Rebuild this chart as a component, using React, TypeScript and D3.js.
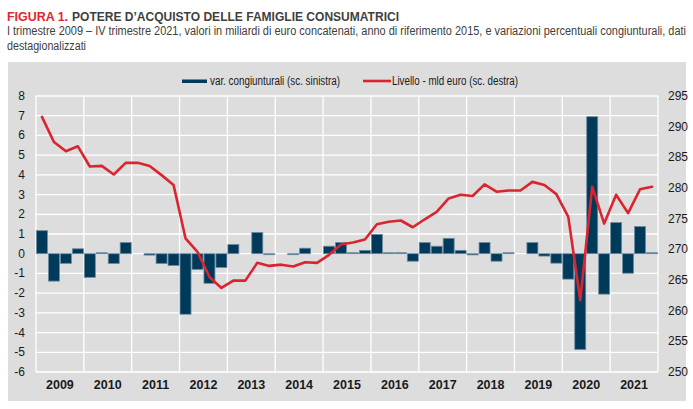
import React from 'react';
import * as d3 from 'd3';

const years = ['2009', '2010', '2011', '2012', '2013', '2014', '2015', '2016', '2017', '2018', '2019', '2020', '2021'];
const quarterNames = ['I', 'II', 'III', 'IV'];
const quarters = years.flatMap((y) => quarterNames.map((q) => `${q} ${y}`));

// variazioni percentuali congiunturali (scala sinistra)
const varCongiunturali = [
  1.17, -1.39, -0.49, 0.25,
  -1.2, 0.05, -0.5, 0.57,
  0, -0.07, -0.5, -0.6,
  -3.07, -0.8, -1.5, -0.7,
  0.47, 0, 1.08, -0.05,
  0, -0.05, 0.28, 0,
  0.38, 0.57, 0.05, 0.17,
  0.98, 0.05, 0.05, -0.38,
  0.57, 0.38, 0.78, 0.17,
  -0.06, 0.57, -0.38, 0.05,
  0, 0.57, -0.12, -0.48,
  -1.29, -4.86, 6.95, -2.05,
  1.58, -0.99, 1.38, 0.05,
];

// livello - mld euro (scala destra)
const livello = [
  291.6, 287.5, 286.0, 286.8,
  283.5, 283.6, 282.2, 284.1,
  284.1, 283.6, 282.1, 280.5,
  271.8, 269.6, 265.5, 263.7,
  264.9, 264.9, 267.8, 267.3,
  267.5, 267.2, 267.9, 267.8,
  269.1, 270.8, 271.1, 271.6,
  274.1, 274.5, 274.7, 273.6,
  274.9, 276.1, 278.3, 278.9,
  278.7, 280.6, 279.4, 279.6,
  279.6, 281.0, 280.5, 279.0,
  275.3, 261.7, 280.2, 274.2,
  278.9, 275.9, 279.8, 280.2,
];

const leftTicks = [8, 7, 6, 5, 4, 3, 2, 1, 0, -1, -2, -3, -4, -5, -6];
const rightTicks = [295, 290, 285, 280, 275, 270, 265, 260, 255, 250];

const titleRed = 'FIGURA 1.';
const titleRest = 'POTERE D\u2019ACQUISTO DELLE FAMIGLIE CONSUMATRICI';
const subtitle1 = 'I trimestre 2009 \u2013 IV trimestre 2021, valori in miliardi di euro concatenati, anno di riferimento 2015, e variazioni percentuali congiunturali, dati';
const subtitle2 = 'destagionalizzati';
const legendBar = 'var. congiunturali (sc. sinistra)';
const legendLine = 'Livello - mld euro (sc. destra)';

const W = 693;
const H = 409;
const plot = { left: 36, right: 658, top: 96, bottom: 372 };
const FONT = '"Liberation Sans Narrow", "Arial Narrow", "Liberation Sans", Arial, sans-serif';

export default function App() {
  const x = d3.scaleBand<string>().domain(quarters).range([plot.left, plot.right]).paddingInner(0.08).paddingOuter(0.04);
  const xYear = d3.scaleBand<string>().domain(years).range([plot.left, plot.right]);
  const yL = d3.scaleLinear().domain([-6, 8]).range([plot.bottom, plot.top]);
  const yR = d3.scaleLinear().domain([250, 295]).range([plot.bottom, plot.top]);

  const line = d3
    .line<number>()
    .x((_, i) => (x(quarters[i]) as number) + x.bandwidth() / 2)
    .y((d) => yR(d));

  const yearLines = [...years.map((y) => xYear(y) as number), plot.right];

  return (
    <svg width={W} height={H} style={{ position: 'absolute', left: 0, top: 0, background: '#ffffff' }} fontFamily={FONT}>
      {/* title */}
      <text x={7} y={21} fontSize={13.5} fontWeight="bold" fill="#e2262e" textLength={61} lengthAdjust="spacingAndGlyphs">
        {titleRed}
      </text>
      <text x={72} y={21} fontSize={13.5} fontWeight="bold" fill="#3f3f3f" textLength={327} lengthAdjust="spacingAndGlyphs">
        {titleRest}
      </text>
      <text x={7} y={35} fontSize={12} fill="#404040" textLength={679} lengthAdjust="spacingAndGlyphs">
        {subtitle1}
      </text>
      <text x={7} y={50} fontSize={12} fill="#404040" textLength={79} lengthAdjust="spacingAndGlyphs">
        {subtitle2}
      </text>

      {/* panel */}
      <rect x={8} y={62} width={678} height={339} fill="#dddddd" />

      {/* grid */}
      {leftTicks.map((t) => (
        <line key={`h${t}`} x1={plot.left} x2={plot.right} y1={yL(t)} y2={yL(t)} stroke="#ffffff" strokeWidth={1.3} />
      ))}
      {yearLines.map((xx, i) => (
        <line key={`v${i}`} x1={xx} x2={xx} y1={plot.top} y2={plot.bottom} stroke="#ffffff" strokeWidth={1.3} />
      ))}

      {/* bars */}
      {varCongiunturali.map((v, i) => {
        const y0 = yL(0);
        const y1 = yL(v);
        const h = Math.abs(y1 - y0);
        if (h === 0) return null;
        return (
          <rect
            key={`b${i}`}
            x={x(quarters[i]) as number}
            y={Math.min(y0, y1)}
            width={x.bandwidth()}
            height={h}
            fill="#003a5b"
            stroke="#6f8ca2"
            strokeWidth={0.8}
          />
        );
      })}

      {/* line */}
      <path d={line(livello) || ''} fill="none" stroke="#d9252f" strokeWidth={2.6} strokeLinejoin="round" strokeLinecap="round" />

      {/* left axis labels */}
      {leftTicks.map((t) => (
        <text key={`l${t}`} x={25} y={yL(t) + 4} fontSize={12} fill="#1a1a1a" textAnchor="end">
          {t}
        </text>
      ))}
      {/* right axis labels */}
      {rightTicks.map((t) => (
        <text key={`r${t}`} x={668} y={yR(t) + 4} fontSize={12} fill="#1a1a1a" textAnchor="start">
          {t}
        </text>
      ))}
      {/* year labels */}
      {years.map((y) => (
        <text key={`y${y}`} x={(xYear(y) as number) + xYear.bandwidth() / 2} y={389} fontSize={12.5} fontWeight="bold" fill="#1a1a1a" textAnchor="middle">
          {y}
        </text>
      ))}

      {/* legend */}
      <rect x={182} y={79.5} width={25} height={3.5} fill="#003a5b" />
      <text x={210} y={85} fontSize={12} fill="#1a1a1a" textLength={130} lengthAdjust="spacingAndGlyphs">
        {legendBar}
      </text>
      <line x1={363} x2={391} y1={81} y2={81} stroke="#d9252f" strokeWidth={2.6} />
      <text x={392} y={85} fontSize={12} fill="#1a1a1a" textLength={126} lengthAdjust="spacingAndGlyphs">
        {legendLine}
      </text>
    </svg>
  );
}
